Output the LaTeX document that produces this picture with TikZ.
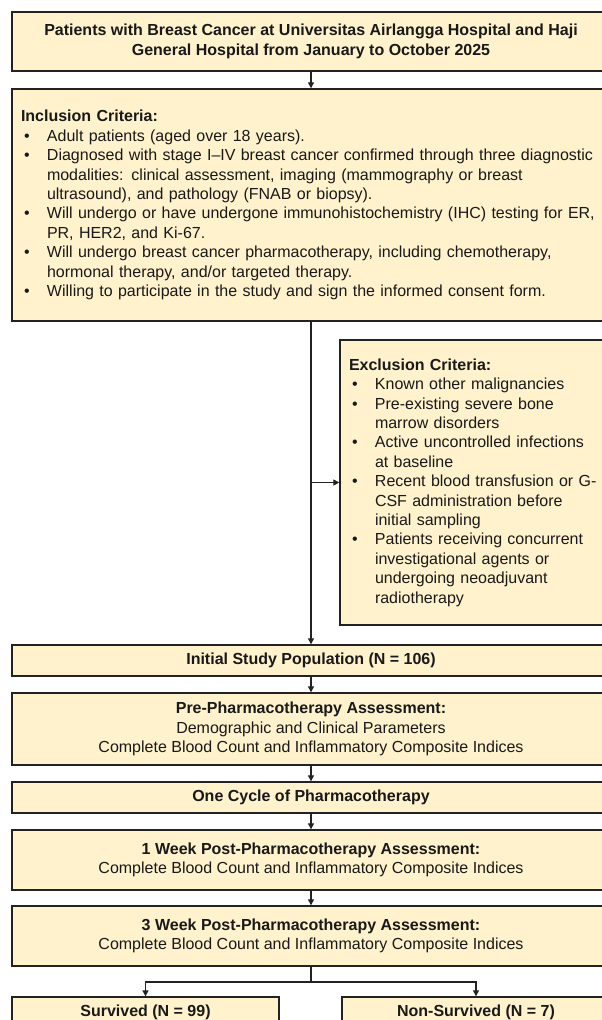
\documentclass[tikz,border=0pt]{standalone}
\usepackage{fontspec}
\setmainfont{Liberation Sans}
\usetikzlibrary{arrows.meta}
\definecolor{boxfill}{HTML}{FFF2CC}
\definecolor{boxline}{HTML}{222222}
\newcommand{\blt}{\hspace*{3pt}\makebox[23pt][l]{\textbullet}}
\newcommand{\cind}{\hspace*{26pt}}
\begin{document}
\begin{tikzpicture}[x=1pt,y=-1pt,
  box/.style={draw=boxline,line width=1.4pt,fill=boxfill,inner xsep=9pt,inner ysep=0pt,
    font=\fontsize{16}{19.4}\selectfont,align=center,text=black!90},
  wide/.style={box,minimum width=598pt},
  conn/.style={draw=boxline,line width=1.3pt},
  arr/.style={conn,-{Triangle[length=6pt,width=6pt]}}]
\useasboundingbox (0,0) rectangle (602,1020);
\clip (0,0) rectangle (602,1020);

\node[wide,minimum height=59pt] (top) at (311,41.5)
  {\textbf{Patients with Breast Cancer at Universitas Airlangga Hospital and Haji}\\
   \textbf{General Hospital from January to October 2025}};

\node[wide,minimum height=232pt,text width=580pt,align=left] (inc) at (311,205)
  {\textbf{Inclusion Criteria:}\\
   \blt Adult patients (aged over 18 years).\\
   \blt Diagnosed with stage I--IV breast cancer confirmed through three diagnostic\\
   \cind modalities: clinical assessment, imaging (mammography or breast\\
   \cind ultrasound), and pathology (FNAB or biopsy).\\
   \blt Will undergo or have undergone immunohistochemistry (IHC) testing for ER,\\
   \cind PR, HER2, and Ki-67.\\
   \blt Will undergo breast cancer pharmacotherapy, including chemotherapy,\\
   \cind hormonal therapy, and/or targeted therapy.\\
   \blt Willing to participate in the study and sign the informed consent form.};

\node[box,minimum width=270pt,minimum height=285pt,text width=252pt,align=left] (exc) at (475,482.5)
  {\textbf{Exclusion Criteria:}\\
   \blt Known other malignancies\\
   \blt Pre-existing severe bone\\
   \cind marrow disorders\\
   \blt Active uncontrolled infections\\
   \cind at baseline\\
   \blt Recent blood transfusion or G-\\
   \cind CSF administration before\\
   \cind initial sampling\\
   \blt Patients receiving concurrent\\
   \cind investigational agents or\\
   \cind undergoing neoadjuvant\\
   \cind radiotherapy};

\node[wide,minimum height=31pt] (init) at (311,660.5)
  {\textbf{Initial Study Population (N = 106)}};

\node[wide,minimum height=72pt] (pre) at (311,729)
  {\textbf{Pre-Pharmacotherapy Assessment:}\\
   Demographic and Clinical Parameters\\
   Complete Blood Count and Inflammatory Composite Indices};

\node[wide,minimum height=31pt] (one) at (311,797.5)
  {\textbf{One Cycle of Pharmacotherapy}};

\node[wide,minimum height=60pt] (w1) at (311,860)
  {\textbf{1 Week Post-Pharmacotherapy Assessment:}\\
   Complete Blood Count and Inflammatory Composite Indices};

\node[wide,minimum height=60pt] (w3) at (311,936)
  {\textbf{3 Week Post-Pharmacotherapy Assessment:}\\
   Complete Blood Count and Inflammatory Composite Indices};

\node[box,minimum width=267pt,minimum height=31pt] (surv) at (145.5,1012.5)
  {\textbf{Survived (N = 99)}};
\node[box,minimum width=268pt,minimum height=31pt] (non) at (476,1012.5)
  {\textbf{Non-Survived (N = 7)}};

\draw[arr] (top) -- (inc);
\draw[arr] (inc) -- (init);
\coordinate (br) at (inc.south |- exc.west);
\draw[arr] (br) -- (exc.west);
\draw[arr] (init) -- (pre);
\draw[arr] (pre) -- (one);
\draw[arr] (one) -- (w1);
\draw[arr] (w1) -- (w3);
\coordinate (split) at (311,982);
\draw[conn] (w3.south) -- (split);
\draw[arr] (split) -| (surv.north);
\draw[arr] (split) -| (non.north);
\end{tikzpicture}
\end{document}
